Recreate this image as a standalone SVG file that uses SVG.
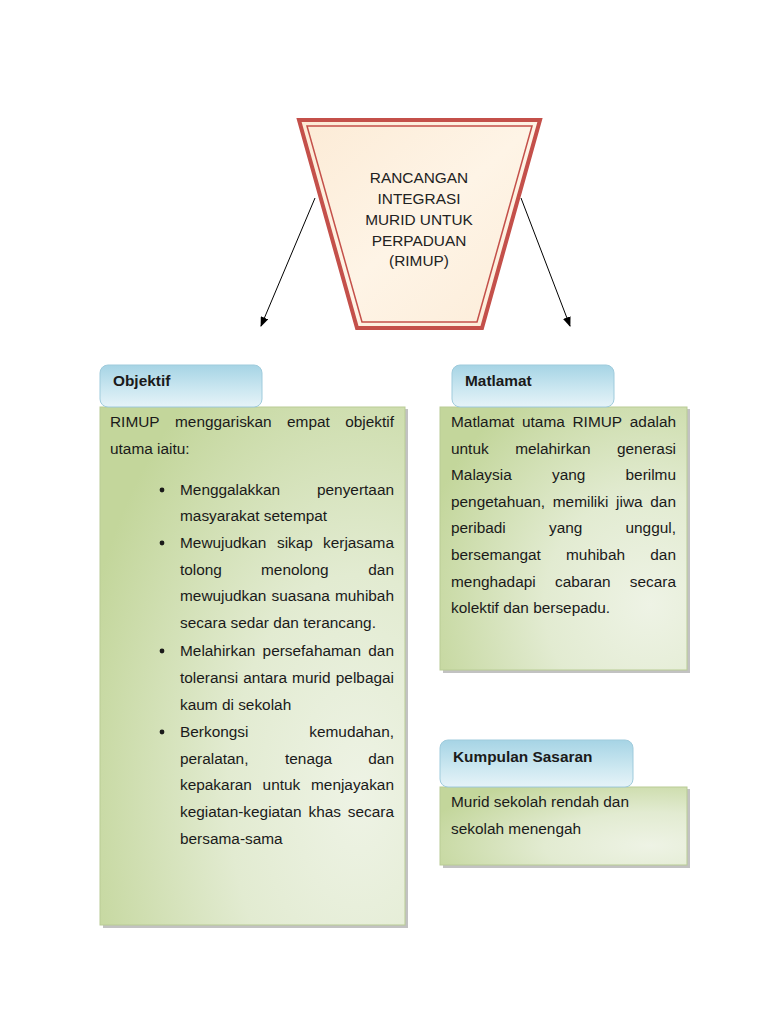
<svg xmlns="http://www.w3.org/2000/svg" width="768" height="1024" viewBox="0 0 768 1024">
<style>
.t{font-family:"Liberation Sans",Arial,sans-serif;font-size:15.4px;fill:#1a1a1a}
.h{font-family:"Liberation Sans",Arial,sans-serif;font-size:15.4px;font-weight:bold;fill:#1a1a1a}
.c{font-family:"Liberation Sans",Arial,sans-serif;font-size:15.4px;fill:#222;text-anchor:middle}
.tab{fill:url(#blue);stroke:#9fcbdc;stroke-width:1}
.body{fill:url(#green);stroke:#b9cc95;stroke-width:1}
.sh{fill:#9a9a9a;opacity:0.6}
.conn{stroke:#000;stroke-width:1;fill:none;marker-end:url(#ah)}
</style>
<defs>
<linearGradient id="blue" x1="0" y1="0" x2="0" y2="1">
<stop offset="0" stop-color="#a6d4e5"/>
<stop offset="0.6" stop-color="#cde8f1"/>
<stop offset="1" stop-color="#e6f3f8"/>
</linearGradient>
<radialGradient id="green" cx="0.85" cy="0.75" r="0.95" fx="0.85" fy="0.75">
<stop offset="0" stop-color="#eef3e5"/>
<stop offset="0.45" stop-color="#e2ebd1"/>
<stop offset="1" stop-color="#c3d69b"/>
</radialGradient>
<linearGradient id="beige" x1="0" y1="0" x2="1" y2="1">
<stop offset="0" stop-color="#fcebd6"/>
<stop offset="0.5" stop-color="#fef4e6"/>
<stop offset="1" stop-color="#fcecd8"/>
</linearGradient>
<marker id="ah" markerWidth="10" markerHeight="8" refX="9" refY="4" orient="auto" markerUnits="userSpaceOnUse">
<path d="M0,0 L10,4 L0,8 Z" fill="#000"/>
</marker>
</defs>

<g id="connectors">
<line class="conn" x1="315" y1="198" x2="261" y2="326"/>
<line class="conn" x1="521" y1="198" x2="570" y2="326"/>
</g>

<g id="rimup">
<polygon points="299,120 540,120 482,328 357,328" fill="url(#beige)" stroke="#c4504a" stroke-width="4"/>
<polygon points="307,126 532,126 477,322 362,322" fill="none" stroke="#c4504a" stroke-width="1.5"/>
<text class="c" x="419" y="183">RANCANGAN</text>
<text class="c" x="419" y="204">INTEGRASI</text>
<text class="c" x="419" y="225">MURID UNTUK</text>
<text class="c" x="419" y="246">PERPADUAN</text>
<text class="c" x="419" y="266">(RIMUP)</text>
</g>

<g id="objektif">
<rect class="sh" x="103" y="409" width="305" height="519"/>
<rect class="body" x="100" y="407" width="305" height="518"/>
<rect class="tab" x="100" y="365" width="162" height="42" rx="8"/>
<text class="h" x="113" y="386">Objektif</text>
<text class="t" y="427"><tspan x="110">RIMUP</tspan><tspan x="175">menggariskan</tspan><tspan x="287">empat</tspan><tspan x="394" text-anchor="end">objektif</tspan></text>
<text class="t" x="110" y="454">utama iaitu:</text>
<circle cx="162" cy="490" r="2.4" fill="#1a1a1a"/>
<circle cx="162" cy="543" r="2.4" fill="#1a1a1a"/>
<circle cx="162" cy="651" r="2.4" fill="#1a1a1a"/>
<circle cx="162" cy="732" r="2.4" fill="#1a1a1a"/>
<text class="t" y="495"><tspan x="180">Menggalakkan</tspan><tspan x="394" text-anchor="end">penyertaan</tspan></text>
<text class="t" x="180" y="521">masyarakat setempat</text>
<text class="t" y="548"><tspan x="180">Mewujudkan</tspan><tspan x="277">sikap</tspan><tspan x="394" text-anchor="end">kerjasama</tspan></text>
<text class="t" y="575"><tspan x="180">tolong</tspan><tspan x="261">menolong</tspan><tspan x="394" text-anchor="end">dan</tspan></text>
<text class="t" y="601"><tspan x="180">mewujudkan</tspan><tspan x="271.6">suasana</tspan><tspan x="394" text-anchor="end">muhibah</tspan></text>
<text class="t" x="180" y="628">secara sedar dan terancang.</text>
<text class="t" y="656"><tspan x="180">Melahirkan</tspan><tspan x="262.6">persefahaman</tspan><tspan x="394" text-anchor="end">dan</tspan></text>
<text class="t" y="683"><tspan x="180">toleransi</tspan><tspan x="243.3">antara</tspan><tspan x="292.1">murid</tspan><tspan x="394" text-anchor="end">pelbagai</tspan></text>
<text class="t" x="180" y="710">kaum di sekolah</text>
<text class="t" y="737"><tspan x="180">Berkongsi</tspan><tspan x="394" text-anchor="end">kemudahan,</tspan></text>
<text class="t" y="764"><tspan x="180">peralatan,</tspan><tspan x="285">tenaga</tspan><tspan x="394" text-anchor="end">dan</tspan></text>
<text class="t" y="790"><tspan x="180">kepakaran</tspan><tspan x="262.6">untuk</tspan><tspan x="394" text-anchor="end">menjayakan</tspan></text>
<text class="t" y="817"><tspan x="180">kegiatan-kegiatan</tspan><tspan x="308.5">khas</tspan><tspan x="394" text-anchor="end">secara</tspan></text>
<text class="t" x="180" y="844">bersama-sama</text>
</g>

<g id="matlamat">
<rect class="sh" x="443" y="409" width="247" height="264"/>
<rect class="body" x="440" y="407" width="247" height="263"/>
<rect class="tab" x="452" y="365" width="162" height="42" rx="8"/>
<text class="h" x="465" y="386">Matlamat</text>
<text class="t" y="427"><tspan x="451">Matlamat</tspan><tspan x="522">utama</tspan><tspan x="572.5">RIMUP</tspan><tspan x="676" text-anchor="end">adalah</tspan></text>
<text class="t" y="454"><tspan x="451">untuk</tspan><tspan x="515.2">melahirkan</tspan><tspan x="676" text-anchor="end">generasi</tspan></text>
<text class="t" y="480"><tspan x="451">Malaysia</tspan><tspan x="552">yang</tspan><tspan x="676" text-anchor="end">berilmu</tspan></text>
<text class="t" y="507"><tspan x="451">pengetahuan,</tspan><tspan x="552.8">memiliki</tspan><tspan x="616.1">jiwa</tspan><tspan x="676" text-anchor="end">dan</tspan></text>
<text class="t" y="533"><tspan x="451">peribadi</tspan><tspan x="549">yang</tspan><tspan x="676" text-anchor="end">unggul,</tspan></text>
<text class="t" y="560"><tspan x="451">bersemangat</tspan><tspan x="566">muhibah</tspan><tspan x="676" text-anchor="end">dan</tspan></text>
<text class="t" y="587"><tspan x="451">menghadapi</tspan><tspan x="555">cabaran</tspan><tspan x="676" text-anchor="end">secara</tspan></text>
<text class="t" x="451" y="613">kolektif dan bersepadu.</text>
</g>

<g id="kumpulan">
<rect class="sh" x="443" y="789" width="247" height="79"/>
<rect class="body" x="440" y="787" width="247" height="78"/>
<rect class="tab" x="440" y="740" width="193" height="47" rx="8"/>
<text class="h" x="453" y="762">Kumpulan Sasaran</text>
<text class="t" x="451" y="807">Murid sekolah rendah dan</text>
<text class="t" x="451" y="834">sekolah menengah</text>
</g>
</svg>
